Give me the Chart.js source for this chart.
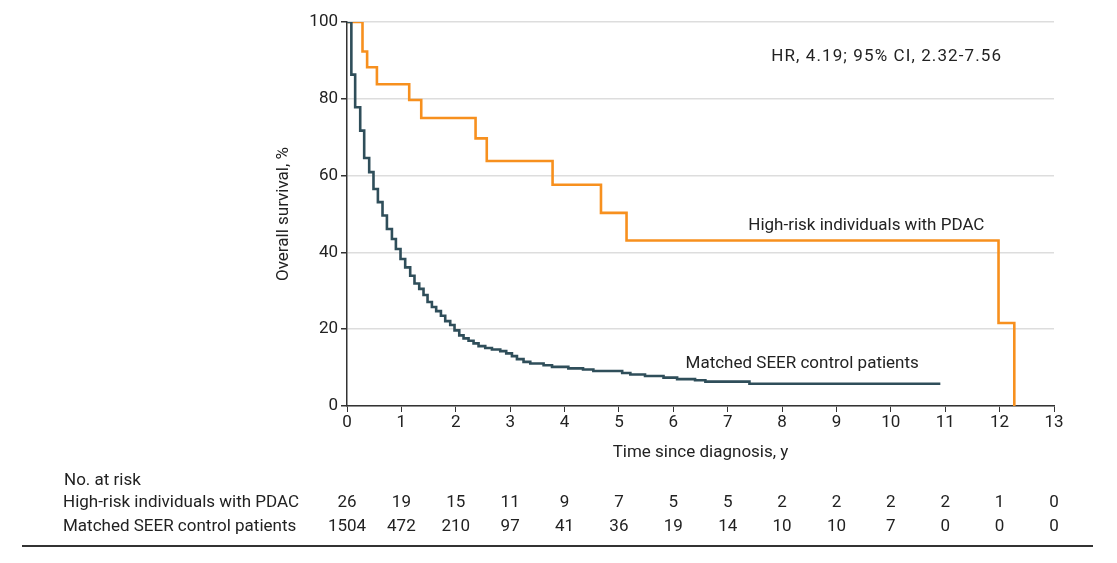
<!DOCTYPE html>
<html>
<head>
<meta charset="utf-8">
<script src="https://cdn.jsdelivr.net/npm/chart.js@4/dist/chart.umd.min.js"></script>
<style>
  html, body { margin: 0; padding: 0; background: #ffffff; }
  #wrap { width: 1117px; height: 563px; position: relative; }
</style>
</head>
<body>
<div id="wrap"><canvas id="c" width="1117" height="563"></canvas></div>
<script>
// ---- data ----
const xTicks = [0,1,2,3,4,5,6,7,8,9,10,11,12,13];
const yTicks = [0,20,40,60,80,100];

const seriesNames = ["High-risk individuals with PDAC", "Matched SEER control patients"];

// Kaplan-Meier steps: value after each time point
const hriTimes    = [0, 0.285, 0.37, 0.55, 1.144, 1.365, 2.364, 2.57, 3.78, 4.67, 5.14, 11.98, 12.27];
const hriSurvival = [100, 92.3, 88.2, 83.8, 79.7, 75.0, 69.7, 63.8, 57.6, 50.3, 43.1, 21.6, 0];

const seerTimes = [0, 0.08, 0.15, 0.243, 0.316, 0.408, 0.487, 0.568, 0.653, 0.734, 0.826, 0.899, 0.984,
  1.070, 1.162, 1.241, 1.328, 1.407, 1.481, 1.561, 1.640, 1.727, 1.806, 1.898, 1.977, 2.064, 2.143,
  2.235, 2.327, 2.419, 2.542, 2.665, 2.818, 2.928, 3.033, 3.125, 3.246, 3.37, 3.615, 3.77, 4.07,
  4.34, 4.53, 5.06, 5.21, 5.48, 5.82, 6.07, 6.40, 6.59, 7.40, 10.91];
const seerSurvival = [100, 86.3, 77.8, 71.7, 64.6, 60.9, 56.5, 53.1, 49.6, 46.1, 43.5, 40.9, 38.3,
  36.1, 33.9, 31.9, 30.5, 28.9, 27.1, 25.8, 24.7, 23.5, 22.1, 21.1, 19.7, 18.4, 17.6,
  17.0, 16.3, 15.6, 15.1, 14.7, 14.3, 13.7, 13.0, 12.2, 11.5, 11.05, 10.6, 10.2, 9.8,
  9.5, 9.1, 8.6, 8.2, 7.8, 7.4, 7.0, 6.7, 6.35, 5.8, 5.8];

const atRiskHRI  = [26, 19, 15, 11, 9, 7, 5, 5, 2, 2, 2, 2, 1, 0];
const atRiskSEER = [1504, 472, 210, 97, 41, 36, 19, 14, 10, 10, 7, 0, 0, 0];

const hrText = "HR, 4.19; 95% CI, 2.32-7.56";

// ---- styling ----
const FONT = "Roboto, 'Open Sans', 'DejaVu Sans', sans-serif";
const FS = 17;
const TXT = "#222222";
const ORANGE = "#F7901E";
const SLATE = "#2F4E5A";

function toPoints(ts, vs) { return ts.map((t, i) => ({ x: t, y: vs[i] })); }

const overlay = {
  id: 'overlay',
  afterDraw(chart) {
    const ctx = chart.ctx;
    const xs = chart.scales.x, ys = chart.scales.y;
    ctx.save();
    ctx.fillStyle = TXT;
    ctx.font = FS + "px " + FONT;
    ctx.textBaseline = "middle";
    // annotations
    ctx.textAlign = "left";
    if ('letterSpacing' in ctx) ctx.letterSpacing = "1.1px";
    ctx.fillText(hrText, xs.getPixelForValue(7.8), ys.getPixelForValue(91.0));
    if ('letterSpacing' in ctx) ctx.letterSpacing = "0px";
    ctx.textAlign = "center";
    ctx.fillText(seriesNames[0], xs.getPixelForValue(9.55), ys.getPixelForValue(47.0));
    ctx.fillText(seriesNames[1], xs.getPixelForValue(8.37), ys.getPixelForValue(10.9));
    // risk table
    ctx.textAlign = "left";
    ctx.fillText("No. at risk", 64, 481);
    ctx.fillText(seriesNames[0], 63, 503);
    ctx.fillText(seriesNames[1], 63, 527);
    ctx.textAlign = "center";
    xTicks.forEach((t, i) => {
      const px = xs.getPixelForValue(t);
      ctx.fillText(String(atRiskHRI[i]), px, 503);
      ctx.fillText(String(atRiskSEER[i]), px, 527);
    });
    // bottom rule
    ctx.strokeStyle = "#333333";
    ctx.lineWidth = 2;
    ctx.beginPath();
    ctx.moveTo(22, 546);
    ctx.lineTo(1093, 546);
    ctx.stroke();
    ctx.restore();
  }
};

new Chart(document.getElementById('c'), {
  type: 'line',
  data: {
    datasets: [
      {
        label: seriesNames[1],
        data: toPoints(seerTimes, seerSurvival),
        borderColor: SLATE,
        borderWidth: 2.6,
        stepped: true,
        pointRadius: 0,
        fill: false
      },
      {
        label: seriesNames[0],
        data: toPoints(hriTimes, hriSurvival),
        borderColor: ORANGE,
        borderWidth: 2.6,
        stepped: true,
        pointRadius: 0,
        fill: false
      }
    ]
  },
  options: {
    responsive: false,
    animation: false,
    devicePixelRatio: 1,
    layout: { padding: { left: 270, right: 63, top: 22, bottom: 96 } },
    plugins: { legend: { display: false }, tooltip: { enabled: false } },
    scales: {
      x: {
        type: 'linear',
        min: 0, max: 13,
        afterBuildTicks: (s) => { s.ticks = xTicks.map(v => ({ value: v })); },
        afterFit: (s) => { s.height = 61; },
        ticks: { color: TXT, font: { family: FONT, size: FS }, padding: 1, maxRotation: 0 },
        grid: { drawOnChartArea: false, drawTicks: true, tickLength: 6, tickColor: '#333', color: '#333' },
        border: { display: true, color: '#333', width: 1.5 },
        title: { display: true, text: 'Time since diagnosis, y', color: TXT, font: { family: FONT, size: FS }, padding: { top: 4, bottom: 4 } }
      },
      y: {
        min: 0, max: 100,
        afterBuildTicks: (s) => { s.ticks = yTicks.map(v => ({ value: v })); },
        afterFit: (s) => { s.width = 347 - 270; },
        ticks: { color: TXT, font: { family: FONT, size: FS }, padding: 3 },
        grid: { color: '#dddddd', lineWidth: 1.5, drawTicks: true, tickLength: 6, tickColor: '#333' },
        border: { display: true, color: '#333', width: 1.5 },
        title: { display: true, text: 'Overall survival, %', color: TXT, font: { family: FONT, size: FS }, padding: { top: 4, bottom: 4 } }
      }
    }
  },
  plugins: [overlay]
});
</script>
</body>
</html>
